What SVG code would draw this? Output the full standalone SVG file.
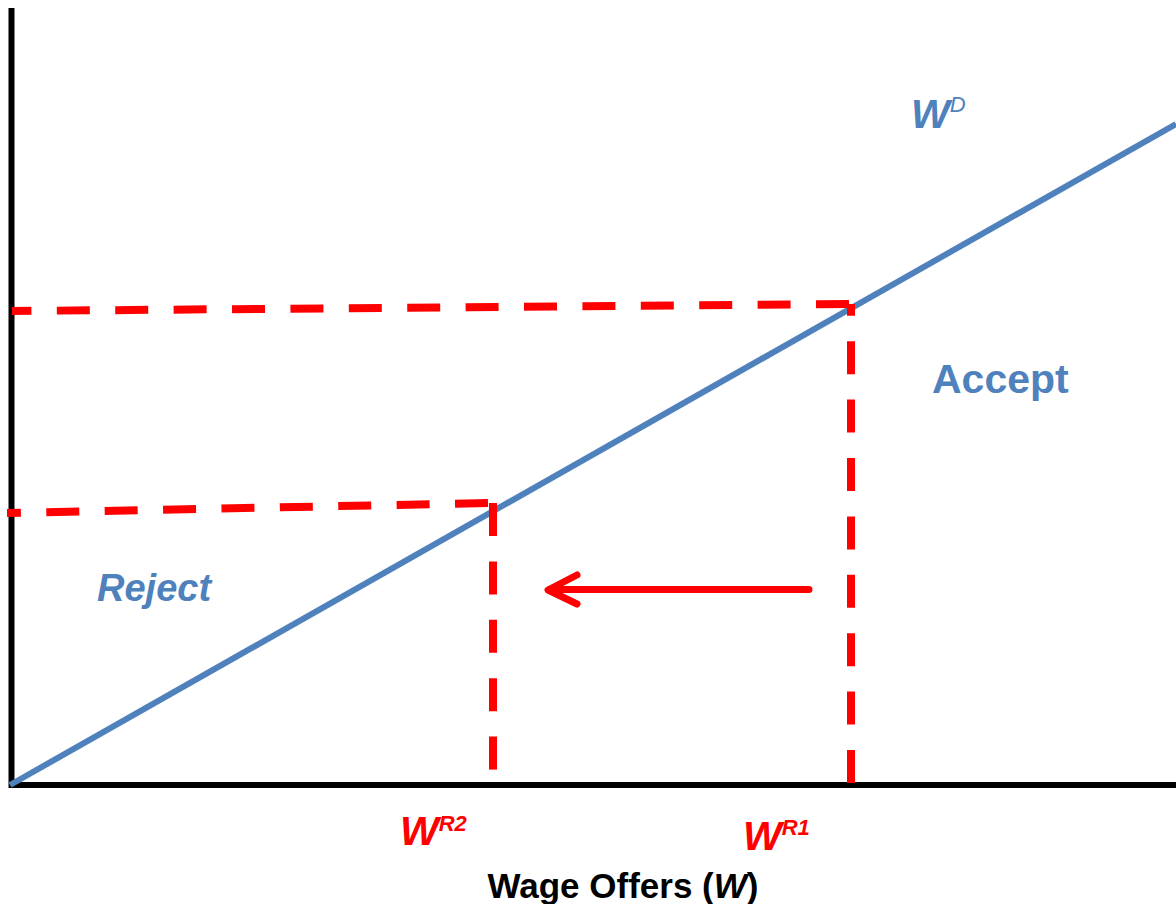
<svg xmlns="http://www.w3.org/2000/svg" width="1176" height="904" viewBox="0 0 1176 904">
<style>
.axis{stroke:#000;stroke-width:6;fill:none}
.curve{stroke:#4F81BD;stroke-width:6;fill:none}
.dash{stroke:#FF0000;stroke-width:8;fill:none;stroke-dasharray:33 25.4}
.arrow{stroke:#FF0000;stroke-width:7;fill:none;stroke-linecap:round;stroke-linejoin:round}
.blue{fill:#4F81BD;font-family:"Liberation Sans",Arial,sans-serif}
.red{fill:#FF0000;font-family:"Liberation Sans",Arial,sans-serif;font-weight:bold;font-style:italic}
.black{fill:#000;font-family:"Liberation Sans",Arial,sans-serif;font-weight:bold}
</style>
<rect width="1176" height="904" fill="#fff"/>
<g id="axes">
<line class="axis" x1="11.5" y1="8" x2="11.5" y2="788"/>
<line class="axis" x1="9" y1="785" x2="1176" y2="785"/>
</g>
<g id="connectors">
<line class="curve" x1="10" y1="785" x2="1176" y2="124"/>
<line class="dash" x1="849" y1="304" x2="12" y2="311"/>
<line class="dash" x1="851" y1="783" x2="851" y2="304"/>
<line class="dash" x1="488" y1="503" x2="7" y2="513"/>
<line class="dash" x1="493" y1="503" x2="493" y2="770"/>
<line class="arrow" x1="809" y1="589.5" x2="550" y2="589.5"/>
<polyline class="arrow" points="577,575 548,590 577,604"/>
</g>
<g id="label-wd">
<text class="blue" x="911" y="128" font-size="41" font-style="italic" font-weight="bold">W<tspan font-size="22" font-weight="normal" dy="-16">D</tspan></text>
</g>
<g id="label-accept">
<text class="blue" x="932" y="393" font-size="41" font-weight="bold">Accept</text>
</g>
<g id="label-reject">
<text class="blue" x="97" y="601" font-size="38" font-weight="bold" font-style="italic">Reject</text>
</g>
<g id="label-wr2">
<text class="red" x="400" y="845" font-size="41">W<tspan font-size="22" dy="-14">R2</tspan></text>
</g>
<g id="label-wr1">
<text class="red" x="743" y="850" font-size="41">W<tspan font-size="22" dy="-15">R1</tspan></text>
</g>
<g id="label-xaxis">
<text class="black" x="623" y="898" font-size="35" text-anchor="middle">Wage Offers (<tspan font-style="italic">W</tspan>)</text>
</g>
</svg>
